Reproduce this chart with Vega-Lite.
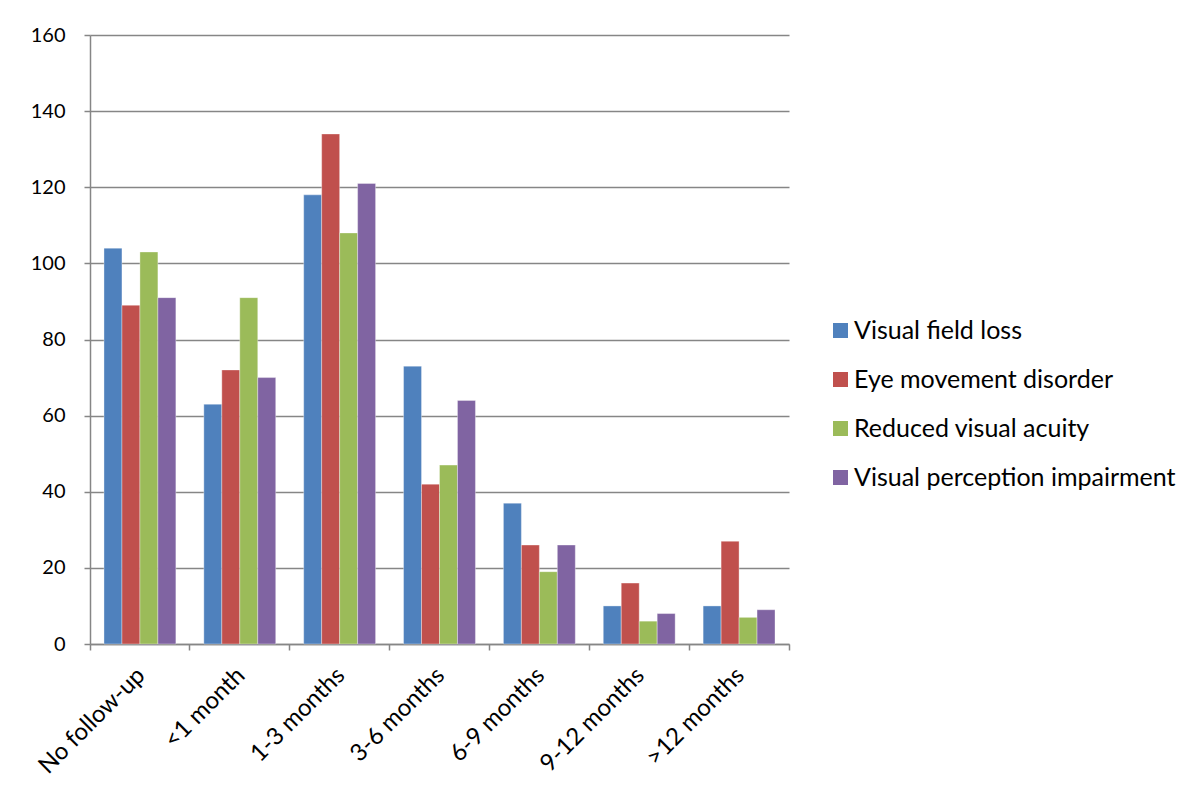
{
  "$schema": "https://vega.github.io/schema/vega-lite/v6.json",
  "width": 699,
  "height": 609,
  "autosize": {"type": "none"},
  "padding": {"left": 90, "top": 35, "right": 408, "bottom": 156},
  "background": "white",
  "config": {
    "font": "Lato",
    "view": {"stroke": null}
  },
  "data": {
    "values": [
      {"period": "No follow-up", "type": "Visual field loss", "count": 104},
      {"period": "No follow-up", "type": "Eye movement disorder", "count": 89},
      {"period": "No follow-up", "type": "Reduced visual acuity", "count": 103},
      {"period": "No follow-up", "type": "Visual perception impairment", "count": 91},
      {"period": "<1 month", "type": "Visual field loss", "count": 63},
      {"period": "<1 month", "type": "Eye movement disorder", "count": 72},
      {"period": "<1 month", "type": "Reduced visual acuity", "count": 91},
      {"period": "<1 month", "type": "Visual perception impairment", "count": 70},
      {"period": "1-3 months", "type": "Visual field loss", "count": 118},
      {"period": "1-3 months", "type": "Eye movement disorder", "count": 134},
      {"period": "1-3 months", "type": "Reduced visual acuity", "count": 108},
      {"period": "1-3 months", "type": "Visual perception impairment", "count": 121},
      {"period": "3-6 months", "type": "Visual field loss", "count": 73},
      {"period": "3-6 months", "type": "Eye movement disorder", "count": 42},
      {"period": "3-6 months", "type": "Reduced visual acuity", "count": 47},
      {"period": "3-6 months", "type": "Visual perception impairment", "count": 64},
      {"period": "6-9 months", "type": "Visual field loss", "count": 37},
      {"period": "6-9 months", "type": "Eye movement disorder", "count": 26},
      {"period": "6-9 months", "type": "Reduced visual acuity", "count": 19},
      {"period": "6-9 months", "type": "Visual perception impairment", "count": 26},
      {"period": "9-12 months", "type": "Visual field loss", "count": 10},
      {"period": "9-12 months", "type": "Eye movement disorder", "count": 16},
      {"period": "9-12 months", "type": "Reduced visual acuity", "count": 6},
      {"period": "9-12 months", "type": "Visual perception impairment", "count": 8},
      {"period": ">12 months", "type": "Visual field loss", "count": 10},
      {"period": ">12 months", "type": "Eye movement disorder", "count": 27},
      {"period": ">12 months", "type": "Reduced visual acuity", "count": 7},
      {"period": ">12 months", "type": "Visual perception impairment", "count": 9}
    ]
  },
  "mark": {"type": "bar", "stroke": "#ffffff", "strokeOpacity": 0.5, "strokeWidth": 0.7},
  "encoding": {
    "x": {
      "field": "period",
      "type": "nominal",
      "sort": ["No follow-up", "<1 month", "1-3 months", "3-6 months", "6-9 months", "9-12 months", ">12 months"],
      "scale": {"paddingInner": 0, "paddingOuter": 0},
      "axis": {
        "title": null,
        "labelAngle": -45,
        "labelFontSize": 24,
        "labelColor": "#000000",
        "labelPadding": 13,
        "labelOffset": -7,
        "bandPosition": 1,
        "tickExtra": true,
        "tickSize": 6,
        "tickColor": "#868686",
        "domainColor": "#868686",
        "domainWidth": 1.5,
        "tickWidth": 1.5,
        "grid": false
      }
    },
    "xOffset": {
      "field": "type",
      "type": "nominal",
      "sort": ["Visual field loss", "Eye movement disorder", "Reduced visual acuity", "Visual perception impairment"],
      "scale": {"paddingInner": 0, "paddingOuter": 0.778}
    },
    "y": {
      "field": "count",
      "type": "quantitative",
      "scale": {"domain": [0, 160], "nice": false},
      "axis": {
        "title": null,
        "values": [0, 20, 40, 60, 80, 100, 120, 140, 160],
        "labelFontSize": 20,
        "labelColor": "#000000",
        "labelPadding": 19,
        "tickSize": 6,
        "tickColor": "#868686",
        "tickWidth": 1.5,
        "domainColor": "#868686",
        "domainWidth": 1.5,
        "gridColor": "#868686",
        "gridWidth": 1.5
      }
    },
    "color": {
      "field": "type",
      "type": "nominal",
      "sort": ["Visual field loss", "Eye movement disorder", "Reduced visual acuity", "Visual perception impairment"],
      "scale": {
        "domain": ["Visual field loss", "Eye movement disorder", "Reduced visual acuity", "Visual perception impairment"],
        "range": ["#4F81BD", "#C0504D", "#9BBB59", "#8064A2"]
      },
      "legend": {
        "title": null,
        "orient": "none",
        "legendX": 738,
        "legendY": 283,
        "symbolType": "square",
        "symbolSize": 225,
        "symbolStrokeWidth": 0,
        "labelFontSize": 25,
        "labelColor": "#000000",
        "labelOffset": 1,
        "rowPadding": 23,
        "labelLimit": 400
      }
    }
  }
}
